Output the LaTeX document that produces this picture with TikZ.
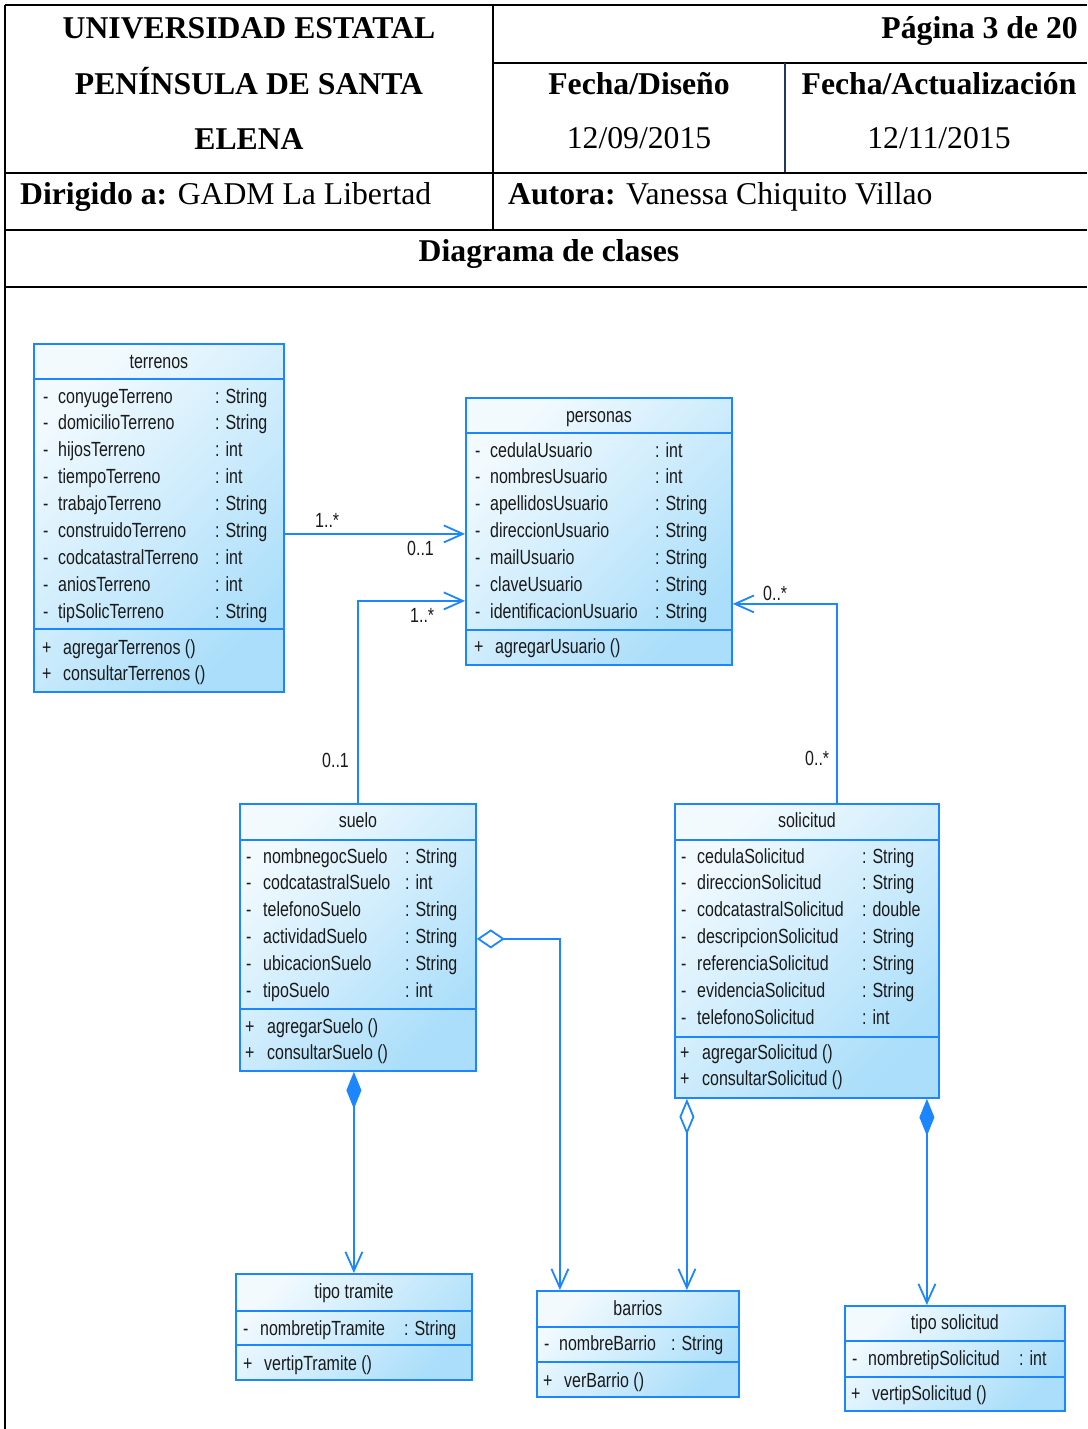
\documentclass[tikz,border=0pt]{standalone}
\usepackage{fontspec}
\setmainfont{Liberation Serif}
\newfontfamily\umlfont[FakeStretch=0.78]{Liberation Sans}
\usetikzlibrary{arrows.meta}

\definecolor{umlline}{RGB}{28,134,255}
\definecolor{umltop}{RGB}{242,250,254}
\definecolor{umlbot}{RGB}{170,222,250}
\definecolor{umltext}{RGB}{26,26,26}
\definecolor{navyrule}{RGB}{31,56,100}

% attribute rows: box name, first baseline, x of marker, x of name, x of type, list name/type
\newcommand\umlrows[6]{%
  \foreach \nm/\ty [count=\i] in {#6} {
    \node[umltxt] (#1-m\i) at (#3, {#2+26.9*(\i-1)}) {-};
    \node[umltxt] (#1-a\i) at (#4, {#2+26.9*(\i-1)}) {\nm};
    \node[umltxt] (#1-t\i) at (#5, {#2+26.9*(\i-1)}) {: \ty};
  }}
% operation rows: box name, first baseline, x of marker, x of name, list
\newcommand\umlops[5]{%
  \foreach \op [count=\i] in {#5} {
    \node[umltxt] (#1-p\i) at (#3, {#2+26.9*(\i-1)}) {+};
    \node[umltxt] (#1-o\i) at (#4, {#2+26.9*(\i-1)}) {\op\ ()};
  }}

\begin{document}
\begin{tikzpicture}[x=1pt,y=-1pt,
  rule/.style={line width=2pt, black},
  hdr/.style={font=\fontsize{31.7}{38}\selectfont, inner sep=0, anchor=base},
  classbox/.style={draw=umlline, line width=1.8pt, top color=umltop,
    bottom color=umlbot, shading angle=45, inner sep=0, anchor=north west},
  sepline/.style={draw=umlline, line width=1.8pt},
  umltxt/.style={font=\umlfont\fontsize{20.5}{23}\selectfont, text=umltext,
    inner sep=0, anchor=base west},
  umltitle/.style={umltxt, anchor=base},
  barb/.tip={Straight Barb[length=19pt,width=17pt]},
  assoc/.style={draw=umlline, line width=1.8pt, -barb},
  aggrh/.style={draw=umlline, line width=1.8pt,
    {Diamond[open,length=28pt,width=19pt]}-barb},
  aggrv/.style={draw=umlline, line width=1.8pt,
    {Diamond[open,length=36pt,width=15pt]}-barb},
  comp/.style={draw=umlline, line width=1.8pt,
    {Diamond[length=37pt,width=15pt]}-barb}
]
\useasboundingbox (0,0) rectangle (1087,1429);

% ---------- header table ----------
\draw[rule] (5,5) -- (5,1429);
\draw[rule] (5,5) -- (1087,5);
\draw[rule] (493,5) -- (493,230);
\draw[rule] (493,63) -- (1087,63);
\draw[line width=1.2pt, navyrule] (785,63) -- (785,173);
\draw[rule] (5,173) -- (1087,173);
\draw[rule] (5,230) -- (1087,230);
\draw[rule] (5,287) -- (1087,287);

\node[hdr] (uni1) at (249,39) {\bfseries UNIVERSIDAD ESTATAL};
\node[hdr] (uni2) at (249,94) {\bfseries PENÍNSULA DE SANTA};
\node[hdr] (uni3) at (249,149) {\bfseries ELENA};
\node[hdr, anchor=base east] (pagina) at (1078,38) {\bfseries Página 3 de 20};
\node[hdr] (fdis) at (639,94) {\bfseries Fecha/Diseño};
\node[hdr] (fact) at (939,94) {\bfseries Fecha/Actualización};
\node[hdr] (fdisv) at (639,148) {12/09/2015};
\node[hdr] (factv) at (939,148) {12/11/2015};
\node[hdr, anchor=base west] (dirigido) at (20,204) {\textbf{Dirigido a:} GADM La Libertad};
\node[hdr, anchor=base west] (autora) at (508,204) {\textbf{Autora:} Vanessa Chiquito Villao};
\node[hdr] (titulo) at (549,261) {\bfseries Diagrama de clases};

% ---------- class boxes ----------
% terrenos
\node[classbox, minimum width=250pt, minimum height=348pt] (terrenos) at (33,343) {};
\draw[sepline] (terrenos.west |- 0,379) -- (terrenos.east |- 0,379);
\draw[sepline] (terrenos.west |- 0,629) -- (terrenos.east |- 0,629);
\node[umltitle] (terrenos-n) at (terrenos.north |- 0,368) {terrenos};
\umlrows{terrenos}{403}{43}{58}{215}{conyugeTerreno/String, domicilioTerreno/String,
  hijosTerreno/int, tiempoTerreno/int, trabajoTerreno/String, construidoTerreno/String,
  codcatastralTerreno/int, aniosTerreno/int, tipSolicTerreno/String}
\umlops{terrenos}{654}{42}{63}{agregarTerrenos, consultarTerrenos}

% personas
\node[classbox, minimum width=266pt, minimum height=267pt] (personas) at (465,397) {};
\draw[sepline] (personas.west |- 0,433) -- (personas.east |- 0,433);
\draw[sepline] (personas.west |- 0,630) -- (personas.east |- 0,630);
\node[umltitle] (personas-n) at (personas.north |- 0,422) {personas};
\umlrows{personas}{457}{475}{490}{655}{cedulaUsuario/int, nombresUsuario/int,
  apellidosUsuario/String, direccionUsuario/String, mailUsuario/String,
  claveUsuario/String, identificacionUsuario/String}
\umlops{personas}{653}{474}{495}{agregarUsuario}

% suelo
\node[classbox, minimum width=236pt, minimum height=267pt] (suelo) at (239,803) {};
\draw[sepline] (suelo.west |- 0,840) -- (suelo.east |- 0,840);
\draw[sepline] (suelo.west |- 0,1009) -- (suelo.east |- 0,1009);
\node[umltitle] (suelo-n) at (suelo.north |- 0,827) {suelo};
\umlrows{suelo}{863}{246}{263}{405}{nombnegocSuelo/String, codcatastralSuelo/int,
  telefonoSuelo/String, actividadSuelo/String, ubicacionSuelo/String, tipoSuelo/int}
\umlops{suelo}{1033}{245}{267}{agregarSuelo, consultarSuelo}

% solicitud
\node[classbox, minimum width=264pt, minimum height=294pt] (solicitud) at (674,803) {};
\draw[sepline] (solicitud.west |- 0,840) -- (solicitud.east |- 0,840);
\draw[sepline] (solicitud.west |- 0,1037) -- (solicitud.east |- 0,1037);
\node[umltitle] (solicitud-n) at (solicitud.north |- 0,827) {solicitud};
\umlrows{solicitud}{863}{681}{697}{862}{cedulaSolicitud/String, direccionSolicitud/String,
  codcatastralSolicitud/double, descripcionSolicitud/String, referenciaSolicitud/String,
  evidenciaSolicitud/String, telefonoSolicitud/int}
\umlops{solicitud}{1059}{680}{702}{agregarSolicitud, consultarSolicitud}

% tipo tramite
\node[classbox, minimum width=236pt, minimum height=106pt] (tramite) at (235,1273) {};
\draw[sepline] (tramite.west |- 0,1311) -- (tramite.east |- 0,1311);
\draw[sepline] (tramite.west |- 0,1345) -- (tramite.east |- 0,1345);
\node[umltitle] (tramite-n) at (tramite.north |- 0,1298) {tipo tramite};
\umlrows{tramite}{1335}{243}{260}{404}{nombretipTramite/String}
\umlops{tramite}{1370}{243}{264}{vertipTramite}

% barrios
\node[classbox, minimum width=202pt, minimum height=106pt] (barrios) at (536,1290) {};
\draw[sepline] (barrios.west |- 0,1327) -- (barrios.east |- 0,1327);
\draw[sepline] (barrios.west |- 0,1362) -- (barrios.east |- 0,1362);
\node[umltitle] (barrios-n) at (barrios.north |- 0,1315) {barrios};
\umlrows{barrios}{1350}{544}{559}{671}{nombreBarrio/String}
\umlops{barrios}{1387}{543}{564}{verBarrio}

% tipo solicitud
\node[classbox, minimum width=220pt, minimum height=105pt] (tiposol) at (844,1305) {};
\draw[sepline] (tiposol.west |- 0,1341) -- (tiposol.east |- 0,1341);
\draw[sepline] (tiposol.west |- 0,1377) -- (tiposol.east |- 0,1377);
\node[umltitle] (tiposol-n) at (tiposol.north |- 0,1329) {tipo solicitud};
\umlrows{tiposol}{1365}{852}{868}{1019}{nombretipSolicitud/int}
\umlops{tiposol}{1400}{851}{872}{vertipSolicitud}

% ---------- relationships ----------
\coordinate (personas-in1) at ([yshift=-2.5pt]personas.west);
\coordinate (personas-in2) at ([yshift=-69.5pt]personas.west);
\coordinate (personas-in3) at ([yshift=-72.5pt]personas.east);
\coordinate (solicitud-up) at ([xshift=30pt]solicitud.north);
\coordinate (barrios-in1) at ([xshift=-78pt]barrios.north);
\coordinate (barrios-in2) at ([xshift=49pt]barrios.north);
\coordinate (tiposol-in) at ([xshift=-28pt]tiposol.north);

\draw[assoc] (terrenos.east |- personas-in1) -- (personas-in1);
\draw[assoc] (suelo.north) |- (personas-in2);
\draw[assoc] (solicitud-up) |- (personas-in3);
\draw[aggrh] ([yshift=-1.5pt]suelo.east) -| (barrios-in1);
\draw[comp] (suelo.south -| tramite.north) -- (tramite.north);
\draw[aggrv] (solicitud.south -| barrios-in2) -- (barrios-in2);
\draw[comp] (solicitud.south -| tiposol-in) -- (tiposol-in);

% multiplicities
\node[umltxt] (m-terr) at (315,527) {1..*};
\node[umltxt] (m-pers1) at (407,555) {0..1};
\node[umltxt] (m-pers2) at (410,622) {1..*};
\node[umltxt] (m-suelo) at (322,767) {0..1};
\node[umltxt] (m-pers3) at (763,600) {0..*};
\node[umltxt] (m-soli) at (805,765) {0..*};
\end{tikzpicture}
\end{document}
